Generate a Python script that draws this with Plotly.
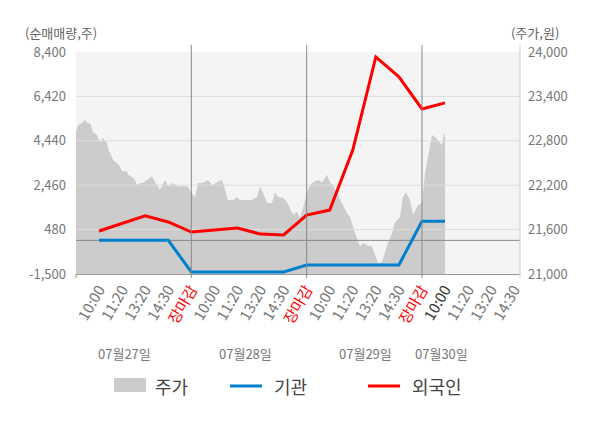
import plotly.graph_objects as go

FONT = "Noto Sans CJK KR"
GRID_COLOR = '#dddddd'
LINE_COLOR = '#888888'
TEXT_COLOR = '#777777'

# x axis: one unit per trading day, labels every 0.2 day
tick_labels = ['10:00', '11:20', '13:20', '14:30', '장마감'] * 3 + ['10:00', '11:20', '13:20', '14:30']
tick_pos = [round(0.2 * (i + 1), 2) for i in range(len(tick_labels))]
day_bounds = [1, 2, 3]
day_labels = ['07월27일', '07월28일', '07월29일', '07월30일']
day_label_pos = [0.42, 1.47, 2.51, 3.17]
x_end = 3.85

# net buying (left axis), one value per time label
flow_pos = tick_pos[:16]
inst = [0, 0, 0, 0, -1410, -1410, -1410, -1410, -1410, -1100, -1100, -1100, -1100, -1100, 850, 850]
foreign = [420, 750, 1090, 820, 370, 460, 550, 280, 240, 1130, 1350, 4030, 8180, 7290, 5860, 6130]

# share price (right axis)
price_pos = [0.000, 0.017, 0.061, 0.078, 0.104, 0.121, 0.147, 0.182, 0.208, 0.234, 0.269, 0.277,
             0.321, 0.356, 0.382, 0.399, 0.442, 0.451, 0.486, 0.512, 0.529, 0.555, 0.581, 0.616,
             0.659, 0.685, 0.728, 0.772, 0.798, 0.841, 0.884, 0.928, 0.971,
             1.000, 1.032, 1.058, 1.101, 1.145, 1.179, 1.223, 1.266, 1.292, 1.318, 1.361, 1.396,
             1.422, 1.526, 1.569, 1.595, 1.621, 1.656, 1.699, 1.725, 1.751, 1.795, 1.830, 1.856,
             1.882, 1.916, 1.942, 1.968,
             2.003, 2.029, 2.055, 2.098, 2.133, 2.176, 2.202, 2.228, 2.263, 2.306, 2.350, 2.376,
             2.402, 2.436, 2.462, 2.489, 2.523, 2.567, 2.593, 2.619, 2.653, 2.679, 2.705, 2.740,
             2.766, 2.809, 2.835, 2.861, 2.896, 2.922, 2.965, 3.000,
             3.026, 3.052, 3.087, 3.113, 3.139, 3.173, 3.191, 3.200]
price = [22920, 23010, 23050, 23080, 23030, 23040, 22920, 22880, 22780, 22840, 22770, 22700,
         22540, 22500, 22450, 22390, 22390, 22340, 22310, 22270, 22200, 22230, 22230, 22270,
         22320, 22240, 22140, 22270, 22180, 22230, 22180, 22190, 22180,
         22100, 22040, 22230, 22230, 22270, 22200, 22240, 22270, 22140, 22000, 22000, 22040,
         22000, 22000, 22040, 22180, 22100, 21960, 21960, 22100, 22040, 22030, 21970, 21890,
         21800, 21840, 21760, 21890,
         22100, 22200, 22240, 22270, 22240, 22340, 22240, 22200, 22100, 21960, 21820, 21770,
         21640, 21500, 21370, 21420, 21390, 21370, 21260, 21150, 21160, 21300, 21420, 21550,
         21700, 21770, 22040, 22100, 22000, 21800, 21930, 21960,
         22360, 22580, 22880, 22850, 22810, 22740, 22900, 22880]

left_ticks = [-1500, 480, 2460, 4440, 6420, 8400]
right_ticks = [21000, 21600, 22200, 22800, 23400, 24000]


def colour_tick(i, label):
    if label == '장마감':
        return '<span style="color:#ff0000">' + label + '</span>'
    if i == 15:
        return '<span style="color:#333333">' + label + '</span>'
    return label


fig = go.Figure()

# price area on the main axis so the flow lines (overlay axis) draw above it
fig.add_trace(go.Scatter(x=price_pos, y=price, mode='lines', fill='tozeroy', fillcolor='#cccccc',
                         line=dict(width=0, color='#cccccc'), name='주가', yaxis='y',
                         showlegend=False, hoverinfo='skip'))

# gridlines and zero line drawn over the price area
for v in left_ticks[1:-1]:
    fig.add_trace(go.Scatter(x=[0, x_end], y=[v, v], mode='lines', yaxis='y2',
                             line=dict(color=GRID_COLOR, width=1), showlegend=False, hoverinfo='skip'))
fig.add_trace(go.Scatter(x=[0, x_end], y=[0, 0], mode='lines', yaxis='y2',
                         line=dict(color=LINE_COLOR, width=1), showlegend=False, hoverinfo='skip'))

fig.add_trace(go.Scatter(x=flow_pos, y=inst, mode='lines', name='기관', yaxis='y2',
                         line=dict(color='#0080cc', width=3), showlegend=False))
fig.add_trace(go.Scatter(x=flow_pos, y=foreign, mode='lines', name='외국인', yaxis='y2',
                         line=dict(color='#ff0000', width=3), showlegend=False))

# the page body adds 8px on the left and top, so the margins are trimmed by that much
fig.update_layout(
    width=600, height=428,
    margin=dict(l=68, r=88, t=44, b=162),
    paper_bgcolor='white', plot_bgcolor='#f4f4f4',
    font=dict(family=FONT, size=13, color=TEXT_COLOR),
    showlegend=False,
    xaxis=dict(range=[0, x_end], tickmode='array', tickvals=tick_pos,
               ticktext=[colour_tick(i, t) for i, t in enumerate(tick_labels)],
               tickangle=-60, tickfont=dict(size=15, color=TEXT_COLOR),
               showgrid=False, zeroline=False, showline=True, linecolor='#999999', linewidth=1,
               ticks=''),
    yaxis=dict(range=[21000, 24000], side='right', tickmode='array', tickvals=right_ticks,
               ticktext=[f'{v:,}' for v in right_ticks], showgrid=False, zeroline=False,
               showline=False, ticks='', ticklabelstandoff=7, tickfont=dict(size=13, color=TEXT_COLOR)),
    yaxis2=dict(range=[-1500, 8400], overlaying='y', side='left', tickmode='array', tickvals=left_ticks,
                ticktext=[f'{v:,}' for v in left_ticks], showgrid=False, zeroline=False,
                showline=False, ticks='', ticklabelstandoff=9, tickfont=dict(size=13, color=TEXT_COLOR)),
)

shapes = []
for b in day_bounds:
    shapes.append(dict(type='line', xref='x', yref='paper', x0=b, x1=b, y0=-0.018, y1=1.032,
                       line=dict(color=LINE_COLOR, width=1), layer='above'))
shapes.append(dict(type='line', xref='paper', yref='paper', x0=1, x1=1, y0=-0.018, y1=1.032,
                   line=dict(color='#cccccc', width=1), layer='above'))
shapes.append(dict(type='line', xref='paper', yref='paper', x0=0, x1=0, y0=-0.018, y1=0,
                   line=dict(color='#999999', width=1), layer='above'))

# legend drawn by hand
shapes.append(dict(type='rect', xref='paper', yref='paper', x0=0.0856, x1=0.1577, y0=-0.5315, y1=-0.4685,
                   fillcolor='#cccccc', line=dict(width=0)))
shapes.append(dict(type='line', xref='paper', yref='paper', x0=0.3468, x1=0.4189, y0=-0.5045, y1=-0.5045,
                   line=dict(color='#0080cc', width=3)))
shapes.append(dict(type='line', xref='paper', yref='paper', x0=0.6577, x1=0.7297, y0=-0.5045, y1=-0.5045,
                   line=dict(color='#ff0000', width=3)))
fig.update_layout(shapes=shapes)

annotations = [
    dict(text='(순매매량,주)', xref='paper', yref='paper', x=-0.0338, y=1.0856, xanchor='center',
         yanchor='middle', showarrow=False, font=dict(size=13, color='#666666')),
    dict(text='(주가,원)', xref='paper', yref='paper', x=1.0338, y=1.0856, xanchor='center',
         yanchor='middle', showarrow=False, font=dict(size=13, color='#666666')),
]
for pos, lab in zip(day_label_pos, day_labels):
    annotations.append(dict(text=lab, xref='x', yref='paper', x=pos, y=-0.356, xanchor='center',
                            yanchor='middle', showarrow=False, font=dict(size=13, color=TEXT_COLOR)))
for x, lab in [(0.1734, '주가'), (0.4414, '기관'), (0.7523, '외국인')]:
    annotations.append(dict(text=lab, xref='paper', yref='paper', x=x, y=-0.5045, xanchor='left',
                            yanchor='middle', showarrow=False, font=dict(size=18, color='#444444')))
fig.update_layout(annotations=annotations)

fig.write_html("out.html")
